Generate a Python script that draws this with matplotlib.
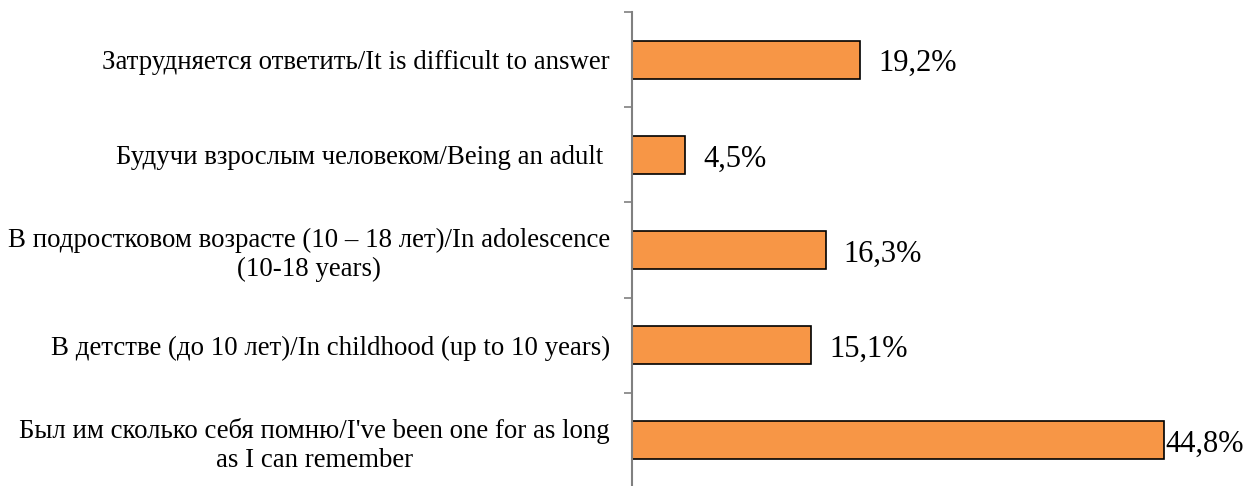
import matplotlib.pyplot as plt
import numpy as np

plt.rcParams['font.family'] = ['Liberation Serif', 'DejaVu Serif']

labels = [
    "Затрудняется ответить/It is difficult to answer",
    "Будучи взрослым человеком/Being an adult ",
    "В подростковом возрасте (10 – 18 лет)/In adolescence\n(10-18 years)",
    "В детстве (до 10 лет)/In childhood (up to 10 years)",
    "Был им сколько себя помню/I've been one for as long\nas I can remember",
]
values = [19.2, 4.5, 16.3, 15.1, 44.8]

fig = plt.figure(figsize=(12.53, 4.86), dpi=100)
ax = fig.add_axes([632/1253, -2/486, 594/1253, 476/486])

y = np.arange(len(values))
ax.barh(y, values, height=0.4, color='#F79646', edgecolor='black', linewidth=1.2)
ax.set_ylim(len(values) - 0.5, -0.5)
ax.set_xlim(0, 50)

# boundary ticks (unlabelled), labels at the bar centres
ax.set_yticks(np.arange(len(values) + 1) - 0.5)
ax.set_yticklabels([])
ax.tick_params(axis='y', which='major', length=6, width=1.2, color='#808080', direction='out')
ax.set_yticks(y, minor=True)
ax.set_yticklabels(labels, minor=True, fontsize=19.4, multialignment='center', linespacing=1.22)
ax.tick_params(axis='y', which='minor', length=0, pad=16)

ax.set_xticks([])
for s in ['top', 'right', 'bottom']:
    ax.spines[s].set_visible(False)
ax.spines['left'].set_color('#808080')
ax.spines['left'].set_linewidth(1.5)

for yi, v in zip(y, values):
    pad = 1 if v == max(values) else 13
    ax.annotate(f"{v:.1f}%".replace('.', ','), (v, yi), xytext=(pad, -3),
                textcoords='offset points', va='center', ha='left', fontsize=22)

fig.savefig('out.png', dpi=100)
